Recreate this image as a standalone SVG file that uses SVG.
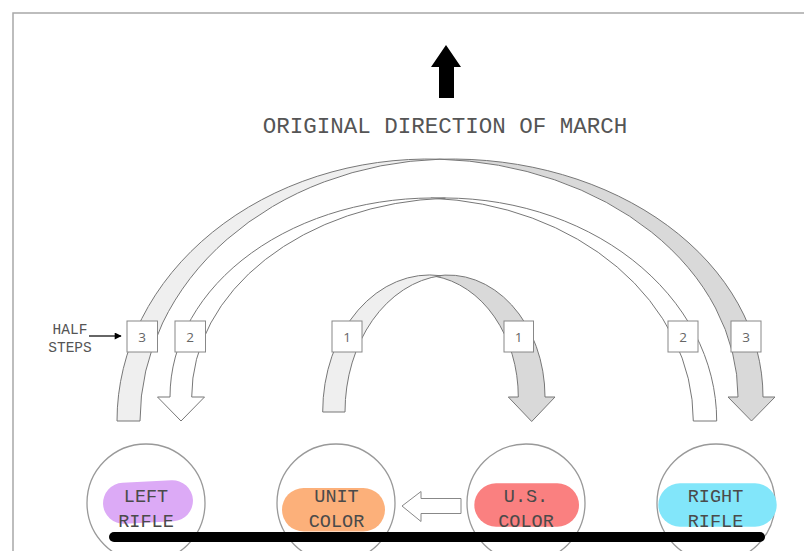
<svg xmlns="http://www.w3.org/2000/svg" width="804" height="551" viewBox="0 0 804 551">
  <style>
    .arr { stroke: #777; stroke-width: 1; stroke-linejoin: miter; }
    .lt { fill: #efefef; }
    .dk { fill: #d9d9d9; }
    .wh { fill: #ffffff; }
    .step rect { fill: #ffffff; stroke: #888; stroke-width: 1; }
    .step text { font-family: "Open Sans", "DejaVu Sans", sans-serif; font-size: 13.5px; fill: #666; text-anchor: middle; }
    .mono { font-family: "Liberation Mono", "Courier New", monospace; text-anchor: middle; }
    .ring { fill: none; stroke: #999; stroke-width: 1.3; }
    .lbl { font-size: 18.5px; fill: #4a4a4a; }
  </style>
  <defs>
    <marker id="ah" viewBox="0 0 10 10" refX="9" refY="5" markerWidth="8" markerHeight="7" markerUnits="userSpaceOnUse" orient="auto">
      <path d="M0,0 L10,5 L0,10 Z" fill="#000"/>
    </marker>
  </defs>

  <rect x="13" y="13" width="810" height="560" fill="none" stroke="#a8a8a8" stroke-width="1.5"/>

  <g id="march-arrow">
    <polygon points="446,45 461,67 454,67 454,98 439,98 439,67 431,67" fill="#000"/>
  </g>
  <g id="title">
    <text class="mono" x="445" y="133" font-size="22.5" fill="#555">ORIGINAL DIRECTION OF MARCH</text>
  </g>

  <g id="connectors">
    <!-- arrow 3 (outer) -->
    <path class="arr dk" d="M439.8,159.2 A311.4,238 0 0 1 763,397 L775,397 L751.5,421 L728,397 L738,397 A310,238 0 0 0 439.8,159.2 Z"/>
    <path class="arr lt" d="M117,421 A311.4,262 0 0 1 439.9,159.2 A311.4,262 0 0 0 140,421 Z"/>
    <!-- arrow 2 (middle, white) -->
    <path class="arr wh" d="M430.9,198.2 A273,223 0 0 1 716.7,421 L693.3,421 A275.3,223 0 0 0 430.9,198.2 Z"/>
    <path class="arr wh" d="M445.3,198.2 A263,199 0 0 0 170,397 L157.5,397 L181,421 L204.5,397 L191.7,397 A266,199 0 0 1 445.3,198.2 Z"/>
    <!-- arrow 1 (inner) -->
    <path class="arr dk" d="M434.65,276.2 A97,122 0 0 1 545,397 L555,397 L531.7,421.5 L508.3,397 L518.3,397 A97,122 0 0 0 434.65,276.2 Z"/>
    <path class="arr lt" d="M322.7,412 A107,137 0 0 1 440.85,275.7 A107,137 0 0 0 345,412 Z"/>
    <!-- half steps pointer -->
    <line x1="89" y1="336" x2="121" y2="336" stroke="#000" stroke-width="1.2" marker-end="url(#ah)"/>
    <!-- colour move arrow -->
    <polygon class="arr wh" points="402,506 421,491.5 421,498.5 461,498.5 461,513.5 421,513.5 421,521.5" style="stroke:#888"/>
  </g>

  <g id="half-steps-label">
    <text class="mono" x="70" y="334" font-size="14.5" fill="#555">HALF</text>
    <text class="mono" x="70" y="352" font-size="14.5" fill="#555">STEPS</text>
  </g>

  <g id="step-left-3" class="step"><rect x="127" y="321" width="30.5" height="31"/><text x="142.2" y="341.5">3</text></g>
  <g id="step-left-2" class="step"><rect x="175" y="321" width="30.5" height="31"/><text x="190.2" y="341.5">2</text></g>
  <g id="step-left-1" class="step"><rect x="332" y="321" width="30" height="31"/><text x="347" y="341.5">1</text></g>
  <g id="step-right-1" class="step"><rect x="504" y="321" width="29.5" height="31"/><text x="518.7" y="341.5">1</text></g>
  <g id="step-right-2" class="step"><rect x="668" y="321" width="30" height="31"/><text x="683" y="341.5">2</text></g>
  <g id="step-right-3" class="step"><rect x="731" y="321" width="30" height="31"/><text x="746" y="341.5">3</text></g>

  <g id="left-rifle">
    <circle class="ring" cx="146" cy="503" r="59"/>
    <rect x="103" y="481.5" width="90" height="41" rx="20.5" fill="#dcaaf6" transform="rotate(-3 148 502)"/>
    <text class="mono lbl" x="146" y="502">LEFT</text>
    <text class="mono lbl" x="146" y="527">RIFLE</text>
  </g>
  <g id="unit-color">
    <circle class="ring" cx="336" cy="503" r="59"/>
    <rect x="282" y="488" width="103" height="43.5" rx="21.75" fill="#fcb07a"/>
    <text class="mono lbl" x="336.5" y="502">UNIT</text>
    <text class="mono lbl" x="336.5" y="527">COLOR</text>
  </g>
  <g id="us-color">
    <circle class="ring" cx="526" cy="503" r="59"/>
    <rect x="474.3" y="483.3" width="104.7" height="43.4" rx="21.7" fill="#fa8080"/>
    <text class="mono lbl" x="526" y="502">U.S.</text>
    <text class="mono lbl" x="526" y="527">COLOR</text>
  </g>
  <g id="right-rifle">
    <circle class="ring" cx="716" cy="503" r="59"/>
    <rect x="658.3" y="483.3" width="118.4" height="43.4" rx="21.7" fill="#82e6fa"/>
    <text class="mono lbl" x="715.5" y="502">RIGHT</text>
    <text class="mono lbl" x="715.5" y="527">RIFLE</text>
  </g>

  <g id="base-line">
    <line x1="114" y1="537" x2="760" y2="537" stroke="#000" stroke-width="10" stroke-linecap="round"/>
  </g>
</svg>
